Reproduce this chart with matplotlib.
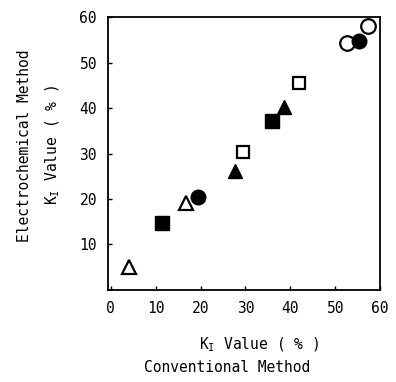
import matplotlib
matplotlib.use("Agg")
import matplotlib.pyplot as plt

plt.rcParams['font.family'] = 'DejaVu Sans Mono'
plt.rcParams['mathtext.fontset'] = 'custom'
plt.rcParams['mathtext.rm'] = 'DejaVu Sans Mono'
plt.rcParams['mathtext.it'] = 'DejaVu Sans Mono'

# Conventional (x) vs electrochemical (y) K_I values, %
open_tri_x = [4.0, 16.8]
open_tri_y = [5.1, 19.1]
fill_tri_x = [27.7, 38.5]
fill_tri_y = [26.2, 40.2]
open_sq_x = [29.4, 42.0]
open_sq_y = [30.3, 45.5]
fill_sq_x = [11.5, 35.8]
fill_sq_y = [14.7, 37.1]
open_circ_x = [52.7, 57.3]
open_circ_y = [54.3, 58.0]
fill_circ_x = [19.5, 55.3]
fill_circ_y = [20.4, 54.7]

ticks = [0, 10, 20, 30, 40, 50, 60]

fig = plt.figure(figsize=(3.96, 3.82), dpi=100)
ax = fig.add_axes([0.273, 0.241, 0.687, 0.714])

ms = 10
ax.plot(open_tri_x, open_tri_y, '^', ms=ms, mfc='white', mec='black', mew=1.6, ls='none')
ax.plot(fill_tri_x, fill_tri_y, '^', ms=ms, mfc='black', mec='black', ls='none')
ax.plot(open_sq_x, open_sq_y, 's', ms=ms - 1, mfc='white', mec='black', mew=1.6, ls='none')
ax.plot(fill_sq_x, fill_sq_y, 's', ms=ms - 0.5, mfc='black', mec='black', ls='none')
ax.plot(open_circ_x, open_circ_y, 'o', ms=ms + 0.5, mfc='white', mec='black', mew=1.6, ls='none')
ax.plot(fill_circ_x, fill_circ_y, 'o', ms=ms + 0.5, mfc='black', mec='black', ls='none')

ax.set_xlim(-0.6, 60)
ax.set_ylim(0, 60)
ax.set_xticks(ticks)
ax.set_yticks(ticks[1:])
ax.tick_params(direction='in', length=3, width=1, labelsize=10.5, pad=8)
for s in ax.spines.values():
    s.set_linewidth(1.3)

fig.text(259 / 396, 1 - 345 / 382, r'K$_\mathrm{I}$ Value ( % )', ha='center', va='center', fontsize=10.5)
fig.text(227 / 396, 1 - 367 / 382, 'Conventional Method', ha='center', va='center', fontsize=10.5)
fig.text(25 / 396, 1 - 146 / 382, 'Electrochemical Method', ha='center', va='center',
         rotation=90, fontsize=10.5)
fig.text(53 / 396, 1 - 145 / 382, r'K$_\mathrm{I}$ Value ( % )', ha='center', va='center',
         rotation=90, fontsize=10.5)

fig.savefig('out.png', dpi=100)
